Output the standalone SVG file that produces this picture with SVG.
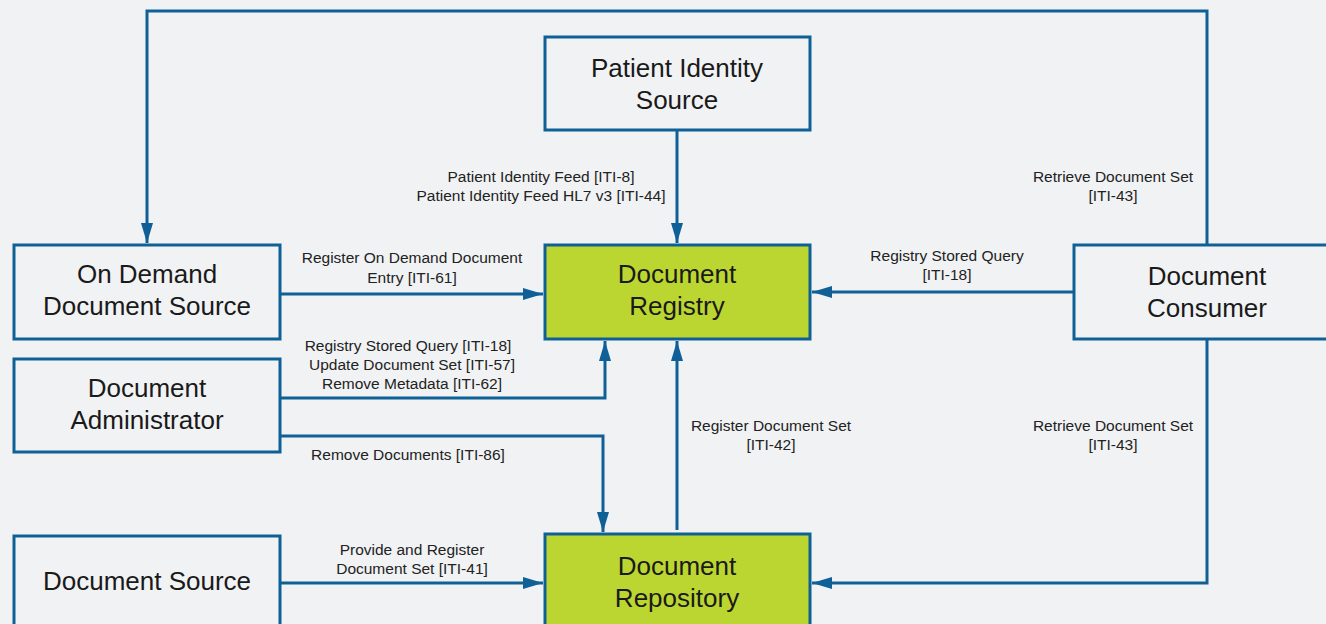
<svg xmlns="http://www.w3.org/2000/svg" width="1326" height="624" viewBox="0 0 1326 624">
<style>
.bg{fill:#f1f2f4}
.box{fill:#f1f2f4;stroke:#0f6096;stroke-width:3}
.hub{fill:#bcd631;stroke:#0f6096;stroke-width:3}
.nt{font-family:"Liberation Sans",Arial,sans-serif;font-size:26px;fill:#1a1a1a;text-anchor:middle}
.lt{font-family:"Liberation Sans",Arial,sans-serif;font-size:15.5px;fill:#222;text-anchor:middle}
.c{fill:none;stroke:#0f6096;stroke-width:3}
</style>
<defs>
<marker id="ah" viewBox="0 0 20 12" refX="20" refY="6" markerWidth="20" markerHeight="12" markerUnits="userSpaceOnUse" orient="auto">
<path d="M0,0 L20,6 L0,12 Z" fill="#0f6096"/>
</marker>
</defs>
<rect class="bg" x="0" y="0" width="1326" height="624"/>
<g id="connectors">
<path class="c" d="M1207,245 V11 H147 V243" marker-end="url(#ah)"/>
<path class="c" d="M677,130 V243" marker-end="url(#ah)"/>
<path class="c" d="M280,294 H543" marker-end="url(#ah)"/>
<path class="c" d="M280,398 H605 V341" marker-end="url(#ah)"/>
<path class="c" d="M280,436 H603 V532" marker-end="url(#ah)"/>
<path class="c" d="M677,530 V341" marker-end="url(#ah)"/>
<path class="c" d="M1074,292 H812" marker-end="url(#ah)"/>
<path class="c" d="M1207,339 V583 H812" marker-end="url(#ah)"/>
<path class="c" d="M280,583 H543" marker-end="url(#ah)"/>
</g>
<g id="labels">
<text class="lt" x="1113" y="182">Retrieve Document Set</text>
<text class="lt" x="1113" y="201">[ITI-43]</text>
<text class="lt" x="541" y="182">Patient Identity Feed [ITI-8]</text>
<text class="lt" x="541" y="201">Patient Identity Feed HL7 v3 [ITI-44]</text>
<text class="lt" x="412" y="263">Register On Demand Document</text>
<text class="lt" x="412" y="283">Entry [ITI-61]</text>
<text class="lt" x="947" y="261">Registry Stored Query</text>
<text class="lt" x="947" y="280">[ITI-18]</text>
<text class="lt" x="408" y="351">Registry Stored Query [ITI-18]</text>
<text class="lt" x="412" y="370">Update Document Set [ITI-57]</text>
<text class="lt" x="412" y="389">Remove Metadata [ITI-62]</text>
<text class="lt" x="408" y="460">Remove Documents [ITI-86]</text>
<text class="lt" x="771" y="431">Register Document Set</text>
<text class="lt" x="771" y="450">[ITI-42]</text>
<text class="lt" x="1113" y="431">Retrieve Document Set</text>
<text class="lt" x="1113" y="450">[ITI-43]</text>
<text class="lt" x="412" y="555">Provide and Register</text>
<text class="lt" x="412" y="574">Document Set [ITI-41]</text>
</g>
<g id="patient-identity-source">
<rect class="box" x="545" y="37" width="265" height="93"/>
<text class="nt" x="677" y="77">Patient Identity</text>
<text class="nt" x="677" y="109">Source</text>
</g>
<g id="document-registry">
<rect class="hub" x="545" y="245" width="265" height="94"/>
<text class="nt" x="677" y="283">Document</text>
<text class="nt" x="677" y="315">Registry</text>
</g>
<g id="on-demand-document-source">
<rect class="box" x="14" y="245" width="266" height="94"/>
<text class="nt" x="147" y="283">On Demand</text>
<text class="nt" x="147" y="315">Document Source</text>
</g>
<g id="document-administrator">
<rect class="box" x="14" y="359" width="266" height="93"/>
<text class="nt" x="147" y="397">Document</text>
<text class="nt" x="147" y="429">Administrator</text>
</g>
<g id="document-source">
<rect class="box" x="14" y="536" width="266" height="100"/>
<text class="nt" x="147" y="590">Document Source</text>
</g>
<g id="document-repository">
<rect class="hub" x="545" y="534" width="265" height="102"/>
<text class="nt" x="677" y="575">Document</text>
<text class="nt" x="677" y="607">Repository</text>
</g>
<g id="document-consumer">
<rect class="box" x="1074" y="245" width="266" height="94"/>
<text class="nt" x="1207" y="285">Document</text>
<text class="nt" x="1207" y="317">Consumer</text>
</g>
</svg>
